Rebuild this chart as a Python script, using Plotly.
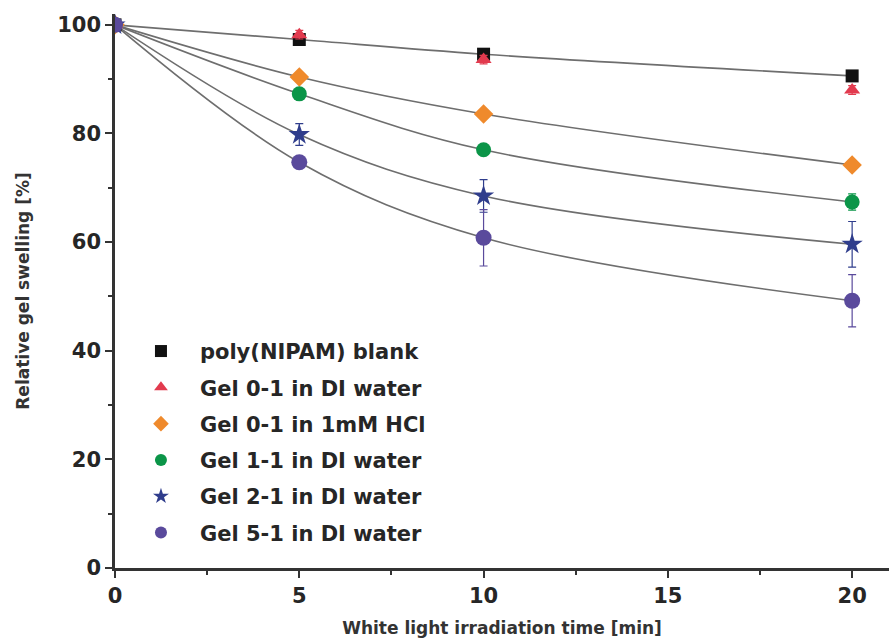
import plotly.graph_objects as go

# irradiation time [min]
time_min = [0, 5, 10, 20]

# relative gel swelling [%] for each sample
blank_nipam = [100, 97.3, 94.6, 90.6]
gel01_water = [100, 98.2, 93.6, 88.0]
gel01_hcl = [100, 90.4, 83.6, 74.2]
gel11_water = [100, 87.3, 77.0, 67.4]
gel21_water = [100, 79.8, 68.5, 59.6]
gel51_water = [100, 74.7, 60.8, 49.2]

# standard deviations
err_blank = [0, 0.6, 0.6, 0.8]
err_gel01_water = [0, 0.8, 0.8, 0.8]
err_gel01_hcl = [0, 0.6, 0.6, 0.6]
err_gel11_water = [0, 0.8, 0.8, 1.5]
err_gel21_water = [0, 2.0, 3.0, 4.2]
err_gel51_water = [0, 0.8, 5.2, 4.8]

series_names = [
    "poly(NIPAM) blank",
    "Gel 0-1 in DI water",
    "Gel 0-1 in 1mM HCl",
    "Gel 1-1 in DI water",
    "Gel 2-1 in DI water",
    "Gel 5-1 in DI water",
]

series_values = [blank_nipam, gel01_water, gel01_hcl, gel11_water, gel21_water, gel51_water]
series_errors = [err_blank, err_gel01_water, err_gel01_hcl, err_gel11_water, err_gel21_water, err_gel51_water]
symbols = ["square", "triangle-up", "diamond", "circle", "star", "circle"]
colors = ["#111111", "#e23a4e", "#ef8a2c", "#0b9548", "#2f3d8c", "#5a4a9c"]
sizes = [13, 14, 15, 15, 16, 16]
# samples that get a trend curve (the blank and Gel 0-1 in water share one)
with_curve = [True, False, True, True, True, True]

FONT = "DejaVu Sans, Verdana, sans-serif"

fig = go.Figure()

for vals, show in zip(series_values, with_curve):
    if show:
        fig.add_trace(go.Scatter(
            x=time_min, y=vals, mode="lines",
            line=dict(color="#6e6e6e", width=1.6, shape="spline", smoothing=1.0),
            showlegend=False, hoverinfo="skip",
        ))

for i, (name, vals, errs) in enumerate(zip(series_names, series_values, series_errors)):
    fig.add_trace(go.Scatter(
        x=time_min, y=vals, mode="markers", name=name,
        legendgroup=f"g{i}",
        marker=dict(symbol=symbols[i], color=colors[i], size=sizes[i], line=dict(width=0)),
        error_y=dict(type="data", array=errs, color=colors[i], thickness=1.2, width=4),
    ))

tick_font = dict(family=FONT, size=21, color="#262626", weight="bold")
title_font = dict(family=FONT, size=17, color="#333333", weight="bold")

fig.update_layout(
    width=889, height=642,
    margin=dict(l=115, r=0, t=14, b=74),
    plot_bgcolor="white", paper_bgcolor="white",
    font=dict(family=FONT, color="#222222"),
    legend=dict(
        x=0.009, y=0.428, xanchor="left", yanchor="top",
        font=dict(size=21, color="#262626", family=FONT, weight="bold"),
        tracegroupgap=6, itemsizing="constant", itemwidth=68,
        bgcolor="rgba(0,0,0,0)",
    ),
    xaxis=dict(
        range=[0, 21], tickvals=[0, 5, 10, 15, 20],
        ticks="outside", ticklen=7, tickwidth=2, tickcolor="#333333",
        minor=dict(tickvals=[2.5, 7.5, 12.5, 17.5], ticks="outside", ticklen=4, tickwidth=2, tickcolor="#333333"),
        showline=True, linecolor="#333333", linewidth=2.5,
        showgrid=False, zeroline=False,
        tickfont=tick_font,
        title=dict(text="White light irradiation time [min]", font=title_font, standoff=16),
    ),
    yaxis=dict(
        range=[0, 102], tickvals=[0, 20, 40, 60, 80, 100],
        ticks="outside", ticklen=7, tickwidth=2, tickcolor="#333333",
        minor=dict(tickvals=[10, 30, 50, 70, 90], ticks="outside", ticklen=4, tickwidth=2, tickcolor="#333333"),
        showline=True, linecolor="#333333", linewidth=2.5,
        showgrid=False, zeroline=False,
        tickfont=tick_font,
        title=dict(text="Relative gel swelling [%]", font=title_font, standoff=24),
    ),
)

fig.write_html("out.html")
